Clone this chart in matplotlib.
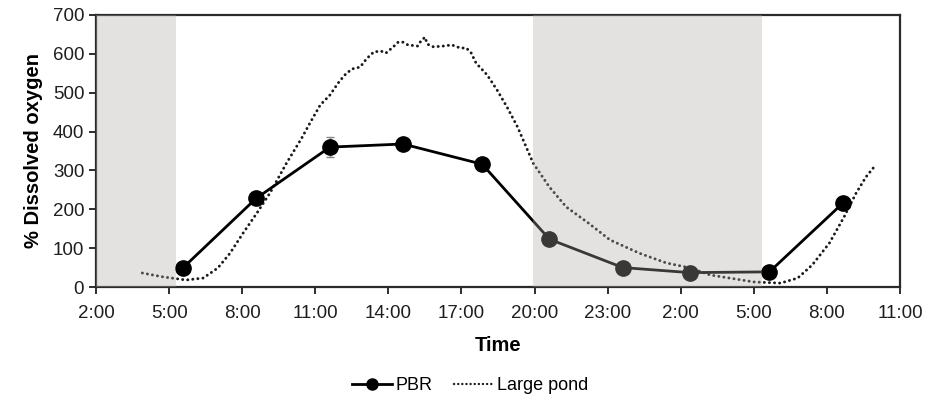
import matplotlib
matplotlib.use("Agg")
import matplotlib.pyplot as plt
from matplotlib.lines import Line2D

plt.rcParams['font.family'] = ['Liberation Sans', 'DejaVu Sans']

# ---- data (hours since midnight of day 1) ----
pbr_time = [5.58, 8.57, 11.6, 14.6, 17.85, 20.61, 23.62, 26.38, 29.64, 32.64]
pbr_do = [50, 228, 360, 368, 316, 123, 50, 37, 39, 215]
pbr_err = [4, 6, 25, 8, 8, 6, 4, 3, 3, 6]

pond_time = [3.9, 4.75, 5.7, 6.4, 7.0, 7.5, 8.04, 8.6, 9.14, 9.83, 10.44, 10.78,
             11.2, 11.6, 11.94, 12.2, 12.5, 12.84, 13.1, 13.4, 13.7, 13.9, 14.2,
             14.4, 14.6, 14.8, 15.2, 15.3, 15.5, 15.6, 15.85, 16.25, 16.6, 16.95,
             17.2, 17.4, 17.6, 18.05, 18.46, 18.87, 19.3, 19.94, 20.6, 21.3, 22.2,
             23.1, 24.3, 25.4, 26.4, 27.2, 28.0, 29.0, 30.1, 30.8, 31.4, 32.1,
             32.7, 33.2, 33.6, 34.0]
pond_do = [36, 26, 18, 23, 49, 87, 139, 190, 242, 320, 383, 422,
           468, 494, 525, 545, 561, 566, 587, 605, 607, 602, 618,
           630, 630, 623, 620, 630, 643, 625, 618, 620, 623, 615,
           615, 602, 576, 546, 507, 463, 412, 319, 258, 206, 165,
           121, 87, 62, 49, 31, 23, 13, 10, 23, 57, 113,
           180, 242, 283, 314]

dark_periods = [(2.0, 5.28), (19.95, 29.33)]
tick_hours = [2, 5, 8, 11, 14, 17, 20, 23, 26, 29, 32, 35]
tick_labels = ['2:00', '5:00', '8:00', '11:00', '14:00', '17:00', '20:00',
               '23:00', '2:00', '5:00', '8:00', '11:00']

DOT = (0, (0.05, 1.7))

fig = plt.figure(figsize=(9.35, 4.04), dpi=100)
ax = fig.add_axes([0.1027, 0.2896, 0.8599, 0.6733])

ax.plot(pond_time, pond_do, color='#1a1a1a', lw=2.1,
        linestyle=DOT, dash_capstyle='round', zorder=2)
ax.errorbar(pbr_time, pbr_do, yerr=pbr_err, color='black', lw=2.0,
            marker='o', markersize=11, ecolor='#888888', elinewidth=1,
            capsize=3, zorder=2)

for s, e in dark_periods:
    ax.axvspan(s, e, color=(175/255, 166/255, 166/255), alpha=0.337,
               lw=0, zorder=3)

ax.set_xlim(2, 35)
ax.set_ylim(0, 700)
ax.set_xticks(tick_hours)
ax.set_xticklabels(tick_labels)
ax.set_yticks(range(0, 701, 100))
ax.tick_params(axis='both', labelsize=13.5, colors='#1e1e1e', direction='out',
               length=5, width=1.3)
ax.tick_params(axis='x', pad=8)
for sp in ax.spines.values():
    sp.set_linewidth(1.6)
    sp.set_color('#2a2a2a')

ax.set_xlabel('Time', fontsize=14.5, fontweight='bold', labelpad=10)
ax.set_ylabel('% Dissolved oxygen', fontsize=14.5, fontweight='bold', labelpad=7)

handles = [Line2D([], [], color='black', lw=2, marker='o', markersize=8),
           Line2D([], [], color='#1a1a1a', lw=1.7, linestyle=DOT,
                  dash_capstyle='round')]
fig.legend(handles, ['PBR', 'Large pond'], loc='center', ncol=2,
           bbox_to_anchor=(0.503, 0.045), frameon=False, fontsize=13,
           handlelength=2.2, handletextpad=0.2, columnspacing=1.2)

fig.savefig('out.png', dpi=100)
